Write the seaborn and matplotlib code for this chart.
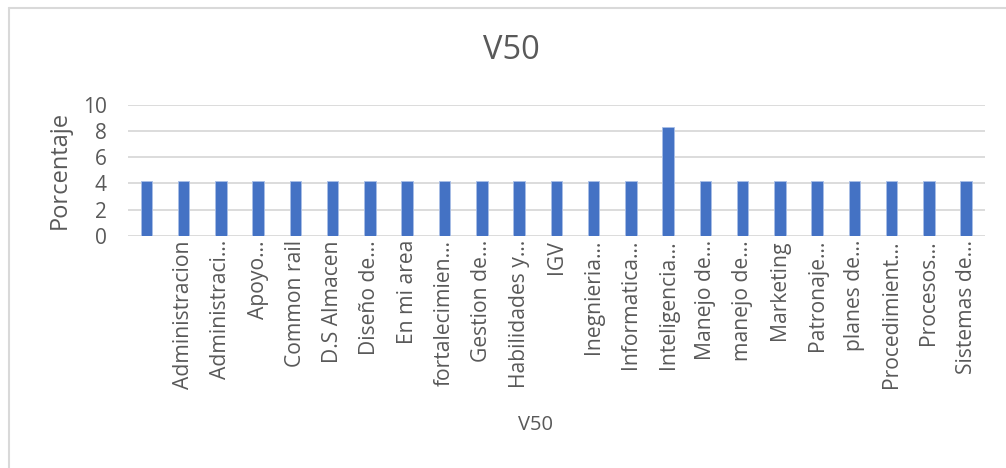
import matplotlib
matplotlib.use("Agg")
import matplotlib.pyplot as plt
import seaborn as sns
import pandas as pd
from matplotlib.lines import Line2D

# Datos
categorias = ["", "Administracion", "Administraci…", "Apoyo…", "Common rail",
              "D.S Almacen", "Diseño de…", "En mi area", "fortalecimien…",
              "Gestion de…", "Habilidades y…", "IGV", "Inegnieria…",
              "Informatica…", "Inteligencia…", "Manejo de…", "manejo de…",
              "Marketing", "Patronaje…", "planes de…", "Procedimient…",
              "Procesos…", "Sistemas de…"]
porcentajes = [4.17, 4.17, 4.17, 4.17, 4.17, 4.17, 4.17, 4.17, 4.17, 4.17,
               4.17, 4.17, 4.17, 4.17, 8.33, 4.17, 4.17, 4.17, 4.17, 4.17,
               4.17, 4.17, 4.17]
ticks_y = [0, 2, 4, 6, 8, 10]

df = pd.DataFrame({"V50": categorias, "Porcentaje": porcentajes})

sns.set_style("white")
plt.rcParams["font.family"] = ["Open Sans", "DejaVu Sans"]
gris = "#595959"

fig = plt.figure(figsize=(10.06, 4.68), dpi=100)
ax = fig.add_axes([0.127, 0.496, 0.852, 0.28])

sns.barplot(data=df, x="V50", y="Porcentaje", order=categorias,
            color="#4472C4", saturation=1, width=0.31,
            edgecolor="#a9bfe6", linewidth=0.6, ax=ax, zorder=3)

ax.set_ylim(0, 10)
ax.set_xlim(-0.5, len(categorias) - 0.5)
ax.set_yticks(ticks_y)
ax.yaxis.grid(True, color="#d9d9d9", linewidth=1.3, zorder=0)
ax.set_axisbelow(True)
for s in ax.spines.values():
    s.set_visible(False)

ax.set_xticks(range(len(categorias)))
ax.set_xticklabels(categorias, rotation=90, ha="center", va="top",
                   fontsize=15.2, color=gris)
ax.tick_params(axis="x", length=0, pad=3)
ax.tick_params(axis="y", length=0, pad=15, labelsize=15, labelcolor=gris)

ax.set_ylabel("Porcentaje", fontsize=17, color=gris, labelpad=8)
ax.set_xlabel("")
fig.text(0.532, 0.092, "V50", fontsize=14.5, color=gris, ha="center", va="center")
fig.text(0.508, 0.893, "V50", fontsize=23.5, color=gris, ha="center", va="center")

# marco del area del grafico
fig.add_artist(Line2D([8.5 / 1006, 8.5 / 1006], [0, 1 - 7.5 / 468],
                      transform=fig.transFigure, color="#d9d9d9", linewidth=1.5))
fig.add_artist(Line2D([8.5 / 1006, 1], [1 - 7.5 / 468, 1 - 7.5 / 468],
                      transform=fig.transFigure, color="#d9d9d9", linewidth=1.5))

plt.savefig("out.png", dpi=100, facecolor="white")
